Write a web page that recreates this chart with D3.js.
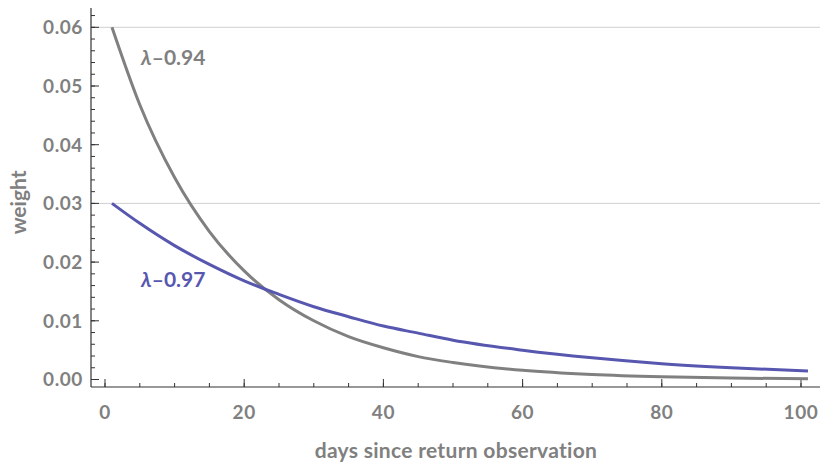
<!DOCTYPE html>
<html><head><meta charset="utf-8">
<script src="https://cdn.jsdelivr.net/npm/d3@7/dist/d3.min.js"></script>
<style>
body{margin:0;background:#fff;}
text{font-family:Lato,"Open Sans",sans-serif;font-weight:bold;fill:#808080;}
</style></head>
<body><svg id="c" width="820" height="464"></svg>
<script>
// data
const days = [1,5,10,15,20,25,30,35,40,45,50,60,70,80,90,101];
const w094 = [0.0600,0.0468,0.0344,0.0252,0.0185,0.0136,0.0100,0.0073,0.0054,0.0039,0.0029,0.00156,0.00084,0.00045,0.00024,0.00012];
const w097 = [0.0300,0.0266,0.0228,0.0196,0.0168,0.0145,0.0124,0.0107,0.0091,0.0079,0.0067,0.0050,0.0037,0.0027,0.0020,0.00143];
const xTicks = [0,20,40,60,80,100];
const yTicks = [0.00,0.01,0.02,0.03,0.04,0.05,0.06];
const gridVals = [0.03,0.06];
const seriesLambda = ["0.94","0.97"];
const xLabel = "days since return observation";
const yLabel = "weight";

const svg = d3.select("#c");
const x = d3.scaleLinear().domain([0,100]).range([105,801]);
const y = d3.scaleLinear().domain([0,0.06]).range([379.5,27.3]);
const axX = 91, axY = 387, rightEdge = 820, topEdge = 8;
const gray = "#808080", blue = "#5757b0";

// gridlines
svg.selectAll(".grid").data(gridVals).join("line")
  .attr("x1",axX).attr("x2",rightEdge).attr("y1",d=>y(d)).attr("y2",d=>y(d))
  .attr("stroke","#d0d0d0").attr("stroke-width",1);

// y axis
const yMinor = d3.range(0,0.0621,0.002);
svg.append("line").attr("x1",axX).attr("x2",axX).attr("y1",topEdge).attr("y2",axY).attr("stroke","#333").attr("stroke-width",1.2);
svg.selectAll(".ymin").data(yMinor).join("line")
  .attr("x1",axX).attr("x2",axX+4).attr("y1",d=>y(d)).attr("y2",d=>y(d)).attr("stroke","#333");
svg.selectAll(".ymaj").data(yTicks).join("line")
  .attr("x1",axX).attr("x2",axX+8).attr("y1",d=>y(d)).attr("y2",d=>y(d)).attr("stroke","#333");
svg.selectAll(".ylab").data(yTicks).join("text")
  .attr("x",axX-8).attr("y",d=>y(d)).attr("dy","0.36em").attr("text-anchor","end")
  .style("font-size","19px").style("letter-spacing","0.6px").text(d=>d3.format(".2f")(d));

// x axis
const xMinor = d3.range(0,101,5);
svg.append("line").attr("x1",axX).attr("x2",rightEdge).attr("y1",axY).attr("y2",axY).attr("stroke","#333").attr("stroke-width",1.2);
svg.selectAll(".xmin").data(xMinor).join("line")
  .attr("x1",d=>x(d)).attr("x2",d=>x(d)).attr("y1",axY).attr("y2",axY-4).attr("stroke","#333");
svg.selectAll(".xmaj").data(xTicks).join("line")
  .attr("x1",d=>x(d)).attr("x2",d=>x(d)).attr("y1",axY).attr("y2",axY-8).attr("stroke","#333");
svg.selectAll(".xlab").data(xTicks).join("text")
  .attr("x",d=>x(d)).attr("y",axY+32).attr("text-anchor","middle")
  .style("font-size","19px").style("letter-spacing","0.6px").text(d=>d);

// axis titles
svg.append("text").attr("transform",`translate(26,${(y(0)+y(0.06))/2-1}) rotate(-90)`)
  .attr("text-anchor","middle").style("font-size","21px").text(yLabel);
svg.append("text").attr("x",(x(0)+x(100))/2+3).attr("y",458).attr("text-anchor","middle")
  .style("font-size","21px").style("letter-spacing","0.3px").text(xLabel);

// curves
const line = d3.line().x(d=>x(d[0])).y(d=>y(d[1])).curve(d3.curveMonotoneX);
svg.append("path").datum(days.map((d,i)=>[d,w094[i]])).attr("d",line)
  .attr("fill","none").attr("stroke",gray).attr("stroke-width",3);
svg.append("path").datum(days.map((d,i)=>[d,w097[i]])).attr("d",line)
  .attr("fill","none").attr("stroke",blue).attr("stroke-width",3);

// labels
function lab(xp, yp, col, val){
  const t = svg.append("text").attr("x",xp).attr("y",yp).style("font-size","21px").style("fill",col);
  t.append("tspan").style("font-style","italic").style("fill",col).text("λ");
  t.append("tspan").style("fill",col).text("–"+val);
}
lab(141,65,gray,seriesLambda[0]);
lab(141,287,blue,seriesLambda[1]);
</script></body></html>
